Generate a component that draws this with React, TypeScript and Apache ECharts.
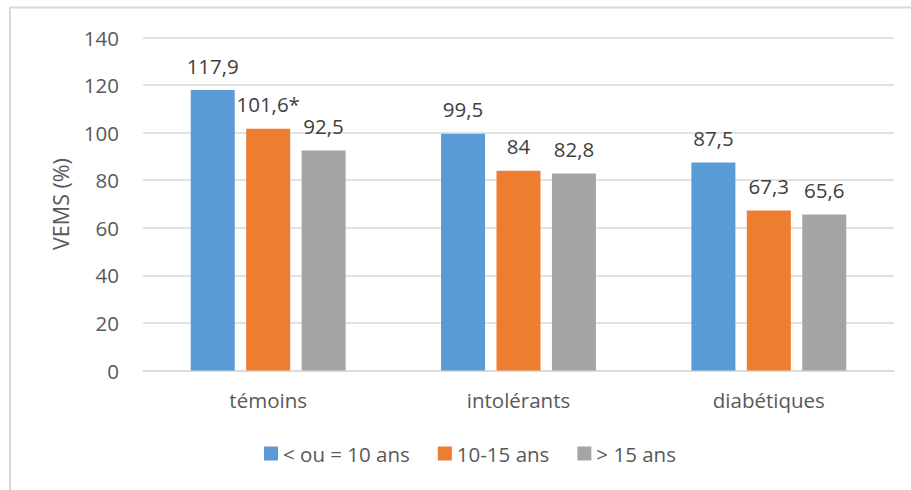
import React, { useEffect, useRef } from "react";
import * as echarts from "echarts";

const categories = ["témoins", "intolérants", "diabétiques"];
const seriesNames = ["< ou = 10 ans", "10-15 ans", "> 15 ans"];
const lt10 = [117.9, 99.5, 87.5];
const mid = [101.6, 84, 67.3];
const gt15 = [92.5, 82.8, 65.6];
const lt10Labels = ["117,9", "99,5", "87,5"];
const midLabels = ["101,6*", "84", "67,3"];
const gt15Labels = ["92,5", "82,8", "65,6"];
const colors = ["#5B9BD5", "#ED7D31", "#A5A5A5"];

const FONT = "Open Sans";
const FS = 20.5;

export default function App() {
  const ref = useRef<HTMLDivElement>(null);
  useEffect(() => {
    if (!ref.current) return;
    const chart = echarts.init(ref.current, undefined, { renderer: "svg" });
    const mk = (name: string, data: number[], labels: string[], color: string) => ({
      name,
      type: "bar",
      data,
      barWidth: 44,
      barGap: "26%",
      itemStyle: { color },
      label: {
        show: true,
        position: "top",
        distance: 14,
        color: "#404040",
        fontFamily: FONT,
        fontSize: FS,
        formatter: (p: any) => labels[p.dataIndex],
      },
    });
    chart.setOption({
      animation: false,
      backgroundColor: "#ffffff",
      textStyle: { fontFamily: FONT },
      graphic: [
        {
          type: "rect",
          shape: { x: 10, y: 7.5, width: 1000, height: 1000 },
          style: { fill: "none", stroke: "#D9D9D9", lineWidth: 2 },
          silent: true,
        },
      ],
      grid: { left: 143, right: 17, top: 37.5, bottom: 119.5, containLabel: false },
      legend: {
        left: 264,
        top: 443,
        padding: 0,
        icon: "rect",
        itemWidth: 14,
        itemHeight: 14,
        itemGap: 28,
        textStyle: { color: "#595959", fontSize: FS, fontFamily: FONT },
        data: seriesNames,
      },
      xAxis: {
        type: "category",
        data: categories,
        axisLine: { lineStyle: { color: "#D9D9D9", width: 1.5 } },
        axisTick: { show: false },
        axisLabel: { color: "#595959", fontSize: FS, fontFamily: FONT, margin: 19 },
      },
      yAxis: {
        type: "value",
        min: 0,
        max: 140,
        interval: 20,
        name: "VEMS (%)",
        nameLocation: "middle",
        nameGap: 72,
        nameTextStyle: { color: "#595959", fontSize: FS + 1, fontFamily: FONT },
        axisLine: { show: false },
        axisTick: { show: false },
        axisLabel: { color: "#595959", fontSize: FS, fontFamily: FONT, margin: 24 },
        splitLine: { lineStyle: { color: "#D9D9D9", width: 1.5 } },
      },
      series: [
        mk(seriesNames[0], lt10, lt10Labels, colors[0]),
        mk(seriesNames[1], mid, midLabels, colors[1]),
        mk(seriesNames[2], gt15, gt15Labels, colors[2]),
      ],
    });
    return () => chart.dispose();
  }, []);
  return (
    <div
      ref={ref}
      style={{ position: "fixed", left: 0, top: 0, width: 911, height: 490, background: "#fff" }}
    />
  );
}
